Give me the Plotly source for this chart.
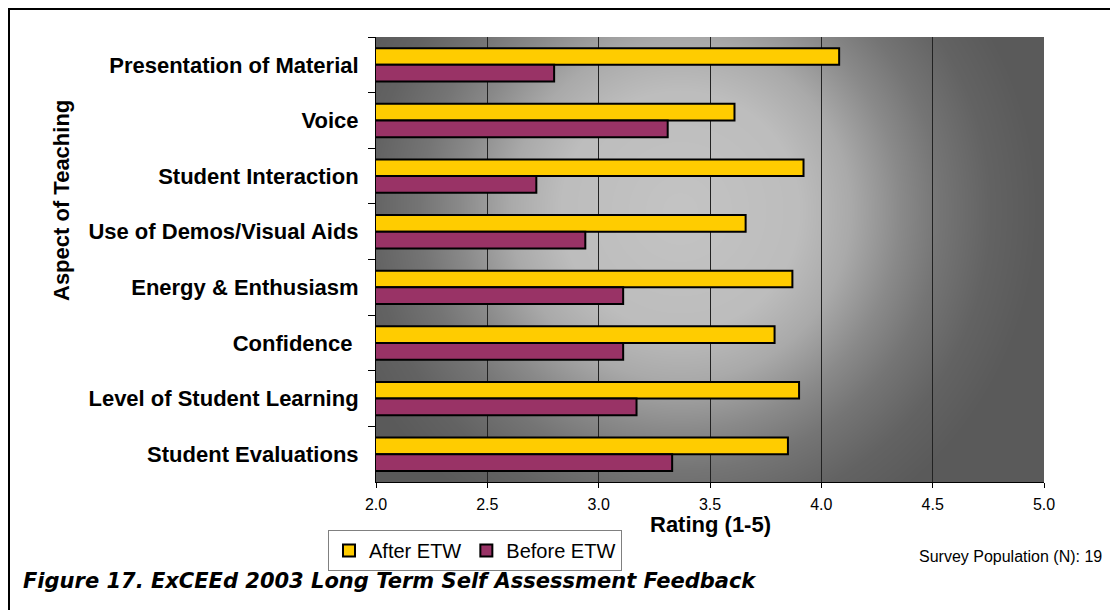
import base64
import struct
import zlib

import numpy as np
import plotly.graph_objects as go

# ---------------- data ----------------
categories = [
    "Presentation of Material",
    "Voice",
    "Student Interaction",
    "Use of Demos/Visual Aids",
    "Energy & Enthusiasm",
    "Confidence\u00a0",
    "Level of Student Learning",
    "Student Evaluations",
]
after_etw = [4.08, 3.61, 3.92, 3.66, 3.87, 3.79, 3.90, 3.85]
before_etw = [2.80, 3.31, 2.72, 2.94, 3.11, 3.11, 3.17, 3.33]
x_ticks = [2.0, 2.5, 3.0, 3.5, 4.0, 4.5, 5.0]
x_tick_labels = ["2.0", "2.5", "3.0", "3.5", "4.0", "4.5", "5.0"]

# ---------------- layout constants ----------------
OFF = 8  # page body margin
W, H = 1118 - OFF, 610 - OFF
L, T = 376 - OFF, 37 - OFF
R = W - (1044 - OFF)
B = H - (482 - OFF)
PW, PH = W - L - R, H - T - B


def px_x(p):  # page pixel -> paper coordinate
    return (p - OFF - L) / PW


def px_y(p):
    return (H - B - (p - OFF)) / PH


# ---------------- radial grey background (decorative image) ----------------
def gradient_png(w, h):
    yy, xx = np.mgrid[0:h, 0:w].astype(float)
    cx, cy = 680 - 376, 210 - 37
    d = np.sqrt((xx - cx) ** 2 + (yy - cy) ** 2)
    v = np.interp(d, [0, 120, 170, 220, 260, 310, 360], [196, 189, 170, 138, 117, 99, 90])
    img = np.repeat(v[:, :, None], 3, axis=2).astype(np.uint8)
    raw = b"".join(b"\x00" + img[i].tobytes() for i in range(h))

    def chunk(t, data):
        return struct.pack(">I", len(data)) + t + data + struct.pack(">I", zlib.crc32(t + data) & 0xFFFFFFFF)

    png = (b"\x89PNG\r\n\x1a\n"
           + chunk(b"IHDR", struct.pack(">IIBBBBB", w, h, 8, 2, 0, 0, 0))
           + chunk(b"IDAT", zlib.compress(raw, 9))
           + chunk(b"IEND", b""))
    return "data:image/png;base64," + base64.b64encode(png).decode()


FONT = "Arial, 'Liberation Sans', sans-serif"

fig = go.Figure()
fig.add_trace(go.Bar(
    y=categories, x=after_etw, name="After ETW", orientation="h",
    marker=dict(color="#FFCC00", line=dict(color="black", width=2)),
    base=0,
))
fig.add_trace(go.Bar(
    y=categories, x=before_etw, name="Before ETW", orientation="h",
    marker=dict(color="#993366", line=dict(color="black", width=2)),
    base=0,
))

fig.update_layout(
    width=W, height=H,
    margin=dict(l=L, r=R, t=T, b=B, autoexpand=False),
    paper_bgcolor="white",
    plot_bgcolor="#5a5a5a",
    barmode="group",
    bargap=0.4,
    bargroupgap=0,
    font=dict(family=FONT, color="black"),
    images=[dict(
        source=gradient_png(PW, PH), xref="paper", yref="paper",
        x=0, y=1, sizex=1, sizey=1, sizing="stretch",
        xanchor="left", yanchor="top", layer="below",
    )],
    xaxis=dict(
        range=[2.0, 5.0], tickvals=x_ticks, ticktext=x_tick_labels,
        showgrid=True, gridcolor="#222222", gridwidth=1,
        showline=True, linecolor="black", linewidth=1,
        ticks="outside", ticklen=5, tickcolor="black",
        tickfont=dict(size=16, family=FONT, color="black"),
        ticklabelstandoff=3,
        zeroline=False, fixedrange=True,
    ),
    yaxis=dict(
        autorange="reversed",
        showline=True, linecolor="black", linewidth=1,
        ticks="outside", ticklen=7, tickcolor="black", tickson="boundaries",
        tickfont=dict(size=22, family=FONT, color="black", weight="bold"),
        ticklabelstandoff=12,
        showgrid=False, fixedrange=True,
    ),
    legend=dict(
        orientation="h", x=px_x(328), y=px_y(530), xanchor="left", yanchor="top",
        bgcolor="white", bordercolor="#808080", borderwidth=1,
        font=dict(size=20, family=FONT, color="black"),
        itemwidth=30, tracegroupgap=0, traceorder="normal",
    ),
    showlegend=True,
)

annotations = [
    dict(text="Aspect of Teaching", x=px_x(61), y=px_y(201), xref="paper", yref="paper",
         textangle=-90, showarrow=False, xanchor="center", yanchor="middle",
         font=dict(size=22, family=FONT, color="black", weight="bold")),
    dict(text="Rating (1-5)", x=0.5, y=px_y(524), xref="paper", yref="paper",
         showarrow=False, xanchor="center", yanchor="middle",
         font=dict(size=22, family=FONT, color="black", weight="bold")),
    dict(text="Survey Population (N): 19", x=px_x(1104), y=px_y(556), xref="paper", yref="paper",
         showarrow=False, xanchor="right", yanchor="middle",
         font=dict(size=16, family=FONT, color="black")),
    dict(text="<b><i>Figure 17. ExCEEd 2003 Long Term Self Assessment Feedback</i></b>",
         x=px_x(21), y=px_y(581), xref="paper", yref="paper",
         showarrow=False, xanchor="left", yanchor="middle",
         font=dict(size=21, family="'DejaVu Sans', sans-serif", color="black")),
]
fig.update_layout(annotations=annotations)

fig.add_shape(type="rect", xref="paper", yref="paper",
              x0=px_x(9), x1=px_x(1200), y0=px_y(700), y1=px_y(9),
              line=dict(color="black", width=2), fillcolor="rgba(0,0,0,0)", layer="above")

fig.write_html("out.html")
